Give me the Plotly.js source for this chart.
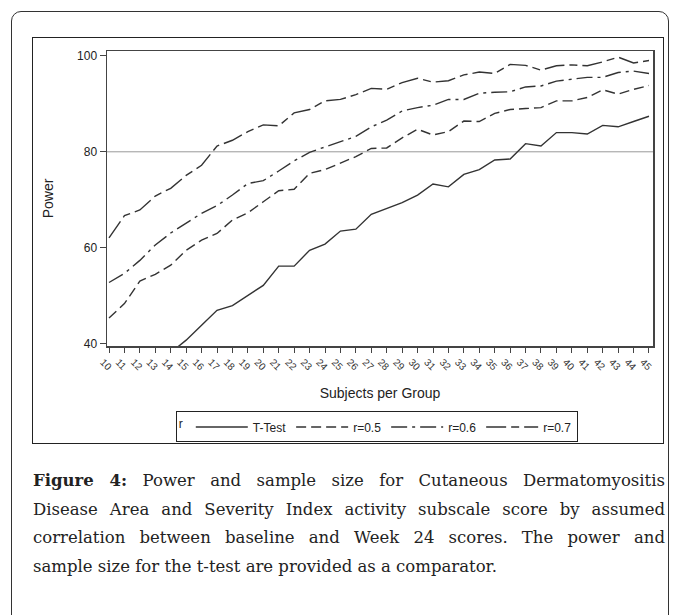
<!DOCTYPE html>
<html><head><meta charset="utf-8">
<script src="https://cdn.plot.ly/plotly-3.0.1.min.js"></script>
<style>
body{margin:0;background:#fff;}
#wrap{position:relative;width:677px;height:615px;overflow:hidden;background:#fff;}
#frame{position:absolute;left:11px;top:11px;width:656px;height:640px;border:1.5px solid #333;border-radius:10px;}
#box{position:absolute;left:32px;top:37px;width:630px;height:405px;border:1.5px solid #222;}
#chart{position:absolute;left:0;top:0;width:677px;height:615px;}
#caption{position:absolute;left:33px;top:467px;width:632px;font-family:"DejaVu Serif","Liberation Serif",serif;font-size:16.5px;line-height:28.7px;color:#222;}
#caption .j{text-align:justify;text-align-last:justify;}
#caption b{font-weight:bold;}
</style></head>
<body>
<div id="wrap">
<div id="frame"></div>
<div id="box"></div>
<div id="chart"></div>
<div id="caption">
<div class="j"><b>Figure 4:</b> Power and sample size for Cutaneous Dermatomyositis</div>
<div class="j">Disease Area and Severity Index activity subscale score by assumed</div>
<div class="j">correlation between baseline and Week 24 scores. The power and</div>
<div>sample size for the t-test are provided as a comparator.</div>
</div>
</div>
<script>
var subjects = [10,11,12,13,14,15,16,17,18,19,20,21,22,23,24,25,26,27,28,29,30,31,32,33,34,35,36,37,38,39,40,41,42,43,44,45];
var tickLabels = subjects.map(String);
var tTest = [null,null,null,null,38.2,40.8,43.9,47.0,48.0,50.1,52.2,56.2,56.2,59.5,60.8,63.5,63.9,67.0,68.2,69.4,71.0,73.3,72.7,75.3,76.3,78.3,78.5,81.7,81.2,84.0,84.0,83.7,85.5,85.2,86.3,87.4];
var r05 = [45.4,48.4,53.1,54.5,56.4,59.5,61.6,63.0,65.8,67.3,69.6,71.9,72.2,75.5,76.3,77.7,79.0,80.7,80.8,82.9,84.7,83.5,84.2,86.4,86.3,88.0,88.8,89.0,89.2,90.6,90.6,91.3,92.9,92.0,93.0,93.8];
var r06 = [52.8,54.7,57.4,60.6,63.1,65.2,67.2,68.8,71.0,73.4,74.0,76.0,78.1,79.9,81.0,82.2,83.2,85.2,86.6,88.5,89.2,89.7,90.9,90.9,92.2,92.4,92.5,93.5,93.7,94.7,95.1,95.5,95.5,96.5,96.8,96.3];
var r07 = [62.1,66.7,67.9,70.8,72.4,75.1,77.2,81.2,82.4,84.2,85.6,85.4,88.1,88.8,90.6,90.9,91.9,93.2,93.0,94.4,95.3,94.5,94.8,96.0,96.6,96.3,98.2,98.0,97.0,97.9,98.1,97.9,98.7,99.7,98.5,99.0];
var seriesNames = ['T-Test','r=0.5','r=0.6','r=0.7'];
var yTicks = [40,60,80,100];
var refPower = 80;

var lineColor = '#333';
function tr(y, name, dash){
  return {x: subjects, y: y, name: name, type:'scatter', mode:'lines',
    line:{color:lineColor, width:1.4, dash:dash}, connectgaps:false, hoverinfo:'skip'};
}
var data = [
  tr(tTest, seriesNames[0], 'solid'),
  tr(r05, seriesNames[1], '10px,5px'),
  tr(r06, seriesNames[2], '16px,5px,3px,5px'),
  tr(r07, seriesNames[3], '20px,5px,8px,5px')
];
var layout = {
  width:677, height:615,
  margin:{l:107, r:24, t:51, b:269, pad:0},
  paper_bgcolor:'rgba(0,0,0,0)', plot_bgcolor:'#fff',
  font:{family:'"Liberation Sans", Arial, sans-serif', color:'#222'},
  showlegend:true,
  xaxis:{range:[9.87,45.26], tickmode:'array', tickvals:subjects, ticktext:tickLabels, tickangle:45,
    ticks:'outside', ticklen:5, tickwidth:1, tickcolor:'#444', ticklabelshift:-6,
    showline:true, mirror:true, linecolor:'#444', linewidth:1.5, showgrid:false, zeroline:false,
    tickfont:{size:10, color:'#333'},
    title:{text:'Subjects per Group', font:{size:14, color:'#222'}, standoff:16}},
  yaxis:{range:[39.58,100.98], tickmode:'array', tickvals:yTicks, ticks:'outside', ticklen:6, tickwidth:1, tickcolor:'#444',
    showline:true, mirror:true, linecolor:'#444', linewidth:1.5, showgrid:false, zeroline:false,
    tickfont:{size:12, color:'#222'},
    title:{text:'Power', font:{size:14, color:'#222'}, standoff:20}},
  legend:{orientation:'h', x:0.126, xanchor:'left', y:-0.222, yanchor:'top',
    bordercolor:'#222', borderwidth:1, bgcolor:'#fff', font:{size:12, color:'#222'},
    title:{text:'r', side:'left', font:{size:12}}, itemwidth:52, tracegroupgap:0},
  shapes:[{type:'line', xref:'paper', x0:0, x1:1, yref:'y', y0:refPower, y1:refPower, line:{color:'#999', width:1}, layer:'below'}]
};
Plotly.newPlot('chart', data, layout, {staticPlot:true, displayModeBar:false});
</script>
</body></html>
